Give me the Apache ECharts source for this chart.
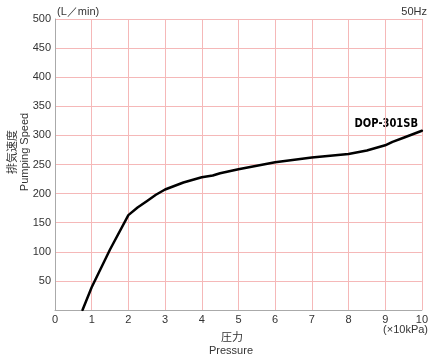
<!DOCTYPE html>
<html><head><meta charset="utf-8">
<script src="https://cdn.jsdelivr.net/npm/echarts@6/dist/echarts.min.js"></script>
<style>html,body{margin:0;padding:0;background:#fff}#c{width:431px;height:358px}</style>
</head><body><div id="c"></div>
<script>
const pressure = [0.75, 1, 1.5, 2, 2.25, 2.5, 2.75, 3, 3.25, 3.5, 4, 4.3, 4.5, 5, 6, 7, 8, 8.5, 9, 9.2, 9.5, 10];
const speed = [0, 39, 104, 163, 176, 187, 198, 207, 213, 219, 228, 231, 235, 242, 254, 262, 268, 274, 283, 289, 296, 308];
const xTicks = [0,1,2,3,4,5,6,7,8,9,10];
const yTicks = [50,100,150,200,250,300,350,400,450,500];
const seriesName = 'DOP-301SB';

const chart = echarts.init(document.getElementById('c'));
const font = 'Liberation Sans, Arial, sans-serif';
chart.setOption({
  animation: false,
  grid: {left: 55, right: 9, top: 19, bottom: 48},
  xAxis: {
    type: 'value', min: 0, max: 10, interval: 1,
    axisLine: {lineStyle: {color: '#aaa', width: 1}},
    axisTick: {show: false},
    axisLabel: {color: '#333', fontSize: 11, fontFamily: font, margin: 4,
      formatter: v => xTicks.includes(v) ? String(v) : ''},
    splitLine: {show: true, lineStyle: {color: '#f5b8b8', width: 1}}
  },
  yAxis: {
    type: 'value', min: 0, max: 500, interval: 50,
    axisLine: {show: true, lineStyle: {color: '#aaa', width: 1}},
    axisTick: {show: false},
    axisLabel: {color: '#333', fontSize: 11, fontFamily: font, margin: 4,
      formatter: v => yTicks.includes(v) ? String(v) : ''},
    splitLine: {show: true, lineStyle: {color: '#f5b8b8', width: 1}}
  },
  series: [{
    type: 'line', name: seriesName,
    data: pressure.map((p, i) => [p, speed[i]]),
    smooth: false, showSymbol: false,
    lineStyle: {color: '#000', width: 2.5, join: 'round', cap: 'round'}
  }],
  graphic: [
    {type: 'text', left: 57, top: 6, style: {text: '(L／min)', fill: '#333', font: '11px ' + font}},
    {type: 'text', right: 4, top: 6, style: {text: '50Hz', fill: '#333', font: '11px ' + font}},
    {type: 'text', x: 418, y: 117, scaleX: 0.85, style: {text: seriesName, fill: '#000', font: 'bold 13px "DejaVu Sans Condensed", sans-serif', textAlign: 'right', textVerticalAlign: 'top'}},
    {type: 'text', right: 3, top: 324, style: {text: '(×10kPa)', fill: '#333', font: '11px ' + font}},
    {type: 'text', left: 221, top: 331, style: {text: '圧力', fill: '#333', font: '11px "Noto Sans CJK JP"'}},
    {type: 'text', left: 209, top: 345, style: {text: 'Pressure', fill: '#333', font: '11px ' + font}},
    {type: 'text', x: 6, y: 152, rotation: Math.PI/2, style: {text: '排気速度', fill: '#333', font: '11px "Noto Sans CJK JP"', textAlign: 'center', textVerticalAlign: 'top'}},
    {type: 'text', x: 19, y: 152, rotation: Math.PI/2, style: {text: 'Pumping Speed', fill: '#333', font: '11px ' + font, textAlign: 'center', textVerticalAlign: 'top'}}
  ]
});
</script></body></html>
